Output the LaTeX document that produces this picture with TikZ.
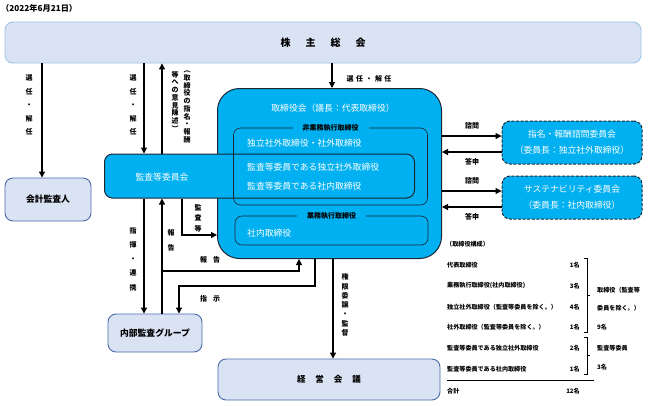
\documentclass[tikz,border=0pt]{standalone}
\usepackage{fontspec}
\setmainfont{Noto Sans CJK JP}
\usepackage{tikz}
\usetikzlibrary{calc}
\usetikzlibrary{arrows.meta}

\definecolor{boardcyan}{HTML}{00B0F0}
\definecolor{palefill}{HTML}{DAE3F3}
\definecolor{paleedge}{HTML}{9DC3E6}
\definecolor{boxedge}{HTML}{4A6BA8}
\definecolor{darkedge}{HTML}{1C2733}

\begin{document}
\begin{tikzpicture}[x=1pt,y=-1pt,
    arr/.style={-{Triangle[length=6pt,width=6pt]},line width=1.1pt},
    palebox/.style={draw=boxedge,fill=palefill,rounded corners=8pt,line width=0.9pt,inner sep=0pt,font=\bfseries\fontsize{8.8}{10}\selectfont},
    cyanbox/.style={draw=darkedge,fill=boardcyan,rounded corners=8pt,line width=1pt,inner sep=0pt,text=white,font=\fontsize{8.8}{16}\selectfont},
    subbox/.style={draw=darkedge,rounded corners=7pt,line width=0.6pt,inner sep=0pt},
    whitetext/.style={text=white,anchor=west,inner sep=0pt,font=\fontsize{8.8}{10}\selectfont},
    sublabel/.style={fill=boardcyan,inner xsep=10pt,inner ysep=1pt,font=\bfseries\fontsize{7}{8}\selectfont},
    lbl/.style={inner sep=0pt,font=\bfseries\fontsize{7}{8}\selectfont},
    vlbl/.style={inner sep=0pt,align=center,font=\bfseries\fontsize{7}{#1}\selectfont},
    vlbl/.default=13.5,
    tabtext/.style={inner sep=0pt,anchor=west,font=\bfseries\fontsize{6.1}{7}\selectfont},
    tabnum/.style={inner sep=0pt,anchor=east,font=\bfseries\fontsize{6.1}{7}\selectfont}
]
    \useasboundingbox (0,0) rectangle (648,405);

    % Line positions
    \coordinate (selA) at (42,0);     % to accounting auditor
    \coordinate (selB) at (144,0);    % to audit committee
    \coordinate (opinion) at (162,0); % opinion / report upwards
    \coordinate (selC) at (332,0);    % to board
    \coordinate (audit) at (182,0);
    \coordinate (auditY) at (0,235);
    \coordinate (report) at (299,0);
    \coordinate (reportY) at (0,271);
    \coordinate (instrA) at (315,286);
    \coordinate (instrB) at (179,286);
    \coordinate (deleg) at (333,0);
    \coordinate (ask1) at (0,136);
    \coordinate (ans1) at (0,152);
    \coordinate (ask2) at (0,191);
    \coordinate (ans2) at (0,207);

    % Date
    \node[anchor=west,inner sep=0pt,font=\bfseries\fontsize{8.2}{9}\selectfont] (date) at (1,8) {（2022年6月21日）};

    % Draw the shareholders meeting
    \node[palebox,draw=paleedge,minimum width=636,minimum height=41,font=\bfseries\fontsize{10}{12}\selectfont] (meeting) at (323,42.5)
        {株\hspace{15pt}主\hspace{15pt}総\hspace{15pt}会};

    % Draw the pale boxes
    \node[palebox,minimum width=86,minimum height=43] (auditor) at (48,199.5) {会計監査人};
    \node[palebox,minimum width=94,minimum height=38] (iag) at (155,333) {内部監査グループ};
    \node[palebox,minimum width=222,minimum height=41,font=\bfseries\fontsize{8.5}{10}\selectfont] (mgmt) at (329,379.5)
        {経\hspace{10pt}営\hspace{10pt}会\hspace{10pt}議};

    % Draw the board and the audit committee
    \node[cyanbox,rounded corners=22pt,minimum width=224,minimum height=170] (board) at (329.5,173.5) {};
    \node[cyanbox,minimum width=310,minimum height=44] (avc) at (259.5,176) {};
    \node[subbox,minimum width=194,minimum height=77] (nonexec) at (330.5,166.5) {};
    \node[subbox,minimum width=193,minimum height=29] (exec) at (331.5,230.5) {};
    \node[sublabel] (nonexeclbl) at (nonexec.north) {非業務執行取締役};
    \node[sublabel] (execlbl) at (exec.north) {業務執行取締役};

    \node[whitetext,anchor=center] (boardtitle) at (333,108) {取締役会（議長：代表取締役）};
    \node[whitetext,anchor=center] (avctitle) at (162,177) {監査等委員会};
    \node[whitetext] (indep) at (247,143) {独立社外取締役・社外取締役};
    \node[whitetext] (avcindep) at (247,167) {監査等委員である独立社外取締役};
    \node[whitetext] (avcinside) at (247,186) {監査等委員である社内取締役};
    \node[whitetext] (inside) at (247,233) {社内取締役};

    % Draw the committees
    \node[cyanbox,dash pattern=on 3pt off 1.6pt,align=center,minimum width=140,minimum height=43] (nomcom) at (572,142.5)
        {指名・報酬諮問委員会\\（委員長：独立社外取締役）};
    \node[cyanbox,dash pattern=on 3pt off 1.6pt,align=center,minimum width=140,minimum height=43] (suscom) at (572,197.5)
        {サステナビリティ委員会\\（委員長：社内取締役）};

    % Draw arrows from the shareholders meeting
    \draw[arr] (meeting.south -| selA) -- (auditor.north -| selA);
    \draw[arr] (meeting.south -| selB) -- (avc.north -| selB);
    \draw[arr] (avc.north -| opinion) -- (meeting.south -| opinion);
    \draw[arr] (meeting.south -| selC) -- (board.north -| selC);

    \node[vlbl] (selAlbl) at (29,105) {選\\任\\・\\解\\任};
    \node[vlbl] (selBlbl) at (133,105) {選\\任\\・\\解\\任};
    \node[vlbl=7.7,anchor=north] (opinionA) at (187,71) {︵\\取\\締\\役\\の\\指\\名\\・\\報\\酬};
    \node[vlbl=7.7,anchor=north] (opinionB) at (175,71) {等\\へ\\の\\意\\見\\陳\\述\\︶};
    \node[lbl] (selClbl) at (369,79) {選\hspace{2.5pt}任\hspace{2.5pt}・\hspace{2.5pt}解\hspace{2.5pt}任};

    % Draw the audit committee links
    \draw[arr] (avc.south -| selB) -- (iag.north -| selB);
    \draw[arr] (iag.north -| opinion) -- (avc.south -| opinion);
    \draw[arr] (avc.south -| audit) |- (board.west |- auditY);
    \draw[arr] (opinion |- reportY) -| (board.south -| report);
    \draw[arr] (board.south -| instrA) -- (instrA) -- (instrB) -- (iag.north -| instrB);
    \draw[arr] (board.south -| deleg) -- (mgmt.north -| deleg);

    \node[vlbl=14.3] (directlbl) at (133,259) {指\\揮\\・\\連\\携};
    \node[vlbl=15] (reportlbl) at (171,240) {報\\告};
    \node[vlbl=10.5] (auditlbl) at (198,218) {監\\査\\等};
    \node[lbl] (reportlblB) at (210,260) {報\hspace{6pt}告};
    \node[lbl] (instrlbl) at (210,299) {指\hspace{6pt}示};
    \node[vlbl=9.3] (deleglbl) at (345,305) {権\\限\\委\\譲\\・\\監\\督};

    % Draw the committee arrows
    \draw[arr] (board.east |- ask1) -- (nomcom.west |- ask1);
    \draw[arr] (nomcom.west |- ans1) -- (board.east |- ans1);
    \draw[arr] (board.east |- ask2) -- (suscom.west |- ask2);
    \draw[arr] (suscom.west |- ans2) -- (board.east |- ans2);
    \node[lbl] (ask1lbl) at (472,126) {諮問};
    \node[lbl] (ans1lbl) at (472,162) {答申};
    \node[lbl] (ask2lbl) at (472,181) {諮問};
    \node[lbl] (ans2lbl) at (472,217) {答申};

    % Board composition table
    \node[tabtext] (tabtitle) at (446,244) {（取締役構成）};
    \node[tabtext] (row1) at (447,265) {代表取締役};
    \node[tabtext] (row2) at (447,286) {業務執行取締役(社内取締役)};
    \node[tabtext] (row3) at (447,307) {独立社外取締役（監査等委員を除く。）};
    \node[tabtext] (row4) at (447,327) {社外取締役（監査等委員を除く。）};
    \node[tabtext] (row5) at (447,348) {監査等委員である独立社外取締役};
    \node[tabtext] (row6) at (447,369) {監査等委員である社内取締役};
    \node[tabtext] (total) at (447,391) {合計};
    \node[tabnum] (num1) at (580,265) {1名};
    \node[tabnum] (num2) at (580,286) {3名};
    \node[tabnum] (num3) at (580,307) {4名};
    \node[tabnum] (num4) at (580,327) {1名};
    \node[tabnum] (num5) at (580,348) {2名};
    \node[tabnum] (num6) at (580,369) {1名};
    \node[tabnum] (numtotal) at (580,391) {12名};

    \draw[line width=1pt] (447,380) -- (594,380);
    \draw[line width=0.7pt] (584,258) -- (587,258) -- (587,332) -- (584,332);
    \draw[line width=0.7pt] (587,295) -- (590,295);
    \draw[line width=0.7pt] (584,337) -- (587,337) -- (587,374) -- (584,374);
    \draw[line width=0.7pt] (587,355) -- (590,355);

    \node[tabtext] (grpA1) at (597,290) {取締役（監査等};
    \node[tabtext] (grpA2) at (597,308) {委員を除く。）};
    \node[tabtext] (grpA3) at (597,327) {9名};
    \node[tabtext] (grpB1) at (597,348) {監査等委員};
    \node[tabtext] (grpB2) at (597,367) {3名};
\end{tikzpicture}
\end{document}
